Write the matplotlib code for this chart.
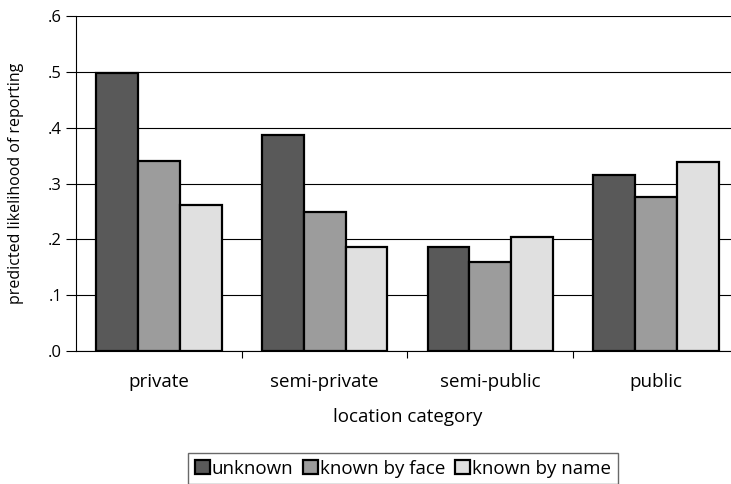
import matplotlib
matplotlib.use("Agg")
import matplotlib.pyplot as plt
import numpy as np

categories = ["private", "semi-private", "semi-public", "public"]
series_names = ["unknown", "known by face", "known by name"]
unknown = [0.498, 0.387, 0.187, 0.315]
known_by_face = [0.340, 0.249, 0.160, 0.275]
known_by_name = [0.262, 0.186, 0.204, 0.338]
yticks = [0.0, 0.1, 0.2, 0.3, 0.4, 0.5, 0.6]
ytick_labels = [".0", ".1", ".2", ".3", ".4", ".5", ".6"]

colors = ["#595959", "#9c9c9c", "#e0e0e0"]

plt.rcParams['font.family'] = ['Open Sans', 'DejaVu Sans']

fig = plt.figure(figsize=(7.31, 4.84), dpi=100)
ax = fig.add_axes([76/731, 1-351/484, (739-76)/731, (351-16)/484])

x = np.arange(len(categories))
w = 0.252
for i, (vals, name) in enumerate(zip([unknown, known_by_face, known_by_name], series_names)):
    ax.bar(x + (i-1)*w, vals, width=w, color=colors[i], edgecolor="black",
           linewidth=1.6, label=name, zorder=3)

ax.set_xlim(-0.5, len(categories)-0.5)
ax.set_ylim(0, 0.6)
ax.set_yticks(yticks)
ax.set_yticklabels(ytick_labels, fontsize=12)
ax.yaxis.grid(True, color="black", linewidth=0.8, zorder=0)
ax.set_axisbelow(True)

ax.set_xticks(x)
ax.set_xticklabels(categories, fontsize=13.5)
ax.tick_params(axis='x', which='major', length=0, pad=16)
ax.set_xticks(np.arange(0.5, len(categories)-0.5, 1), minor=True)
ax.tick_params(axis='x', which='minor', length=5, width=0.8, direction='out')
ax.tick_params(axis='y', length=7, width=0.8, direction='out', pad=3)

for s in ["top", "right"]:
    ax.spines[s].set_visible(False)
ax.spines["left"].set_linewidth(0.8)
ax.spines["bottom"].set_linewidth(0.8)

ax.set_xlabel("location category", fontsize=13.5, labelpad=12)
fig.text(16/731, 1-183/484, "predicted likelihood of reporting", rotation=90,
         ha="center", va="center", fontsize=11.5)

leg = fig.legend(loc="upper left", bbox_to_anchor=(188/731, 1-453/484), ncol=3,
                 fontsize=13.5, frameon=True, fancybox=False, borderaxespad=0,
                 handlelength=0.8, handleheight=0.8, handletextpad=0.12,
                 columnspacing=0.5, borderpad=0.35)
leg.get_frame().set_edgecolor("#444444")
leg.get_frame().set_linewidth(1.0)

fig.savefig("out.png", dpi=100)
